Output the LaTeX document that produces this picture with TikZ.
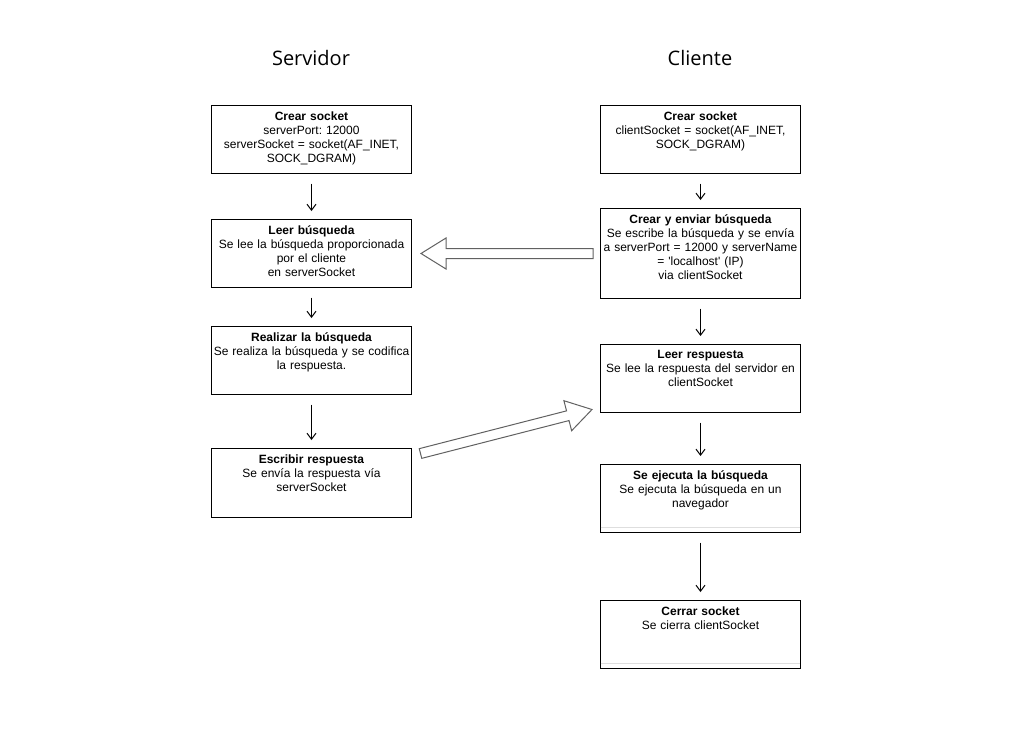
\documentclass[tikz,border=0pt]{standalone}
\usepackage{fontspec}
\setmainfont[Ligatures=TeXOff]{Liberation Sans}
\newfontfamily\titlefont{Open Sans}
\usetikzlibrary{arrows.meta,calc}
\frenchspacing
\begin{document}
\begin{tikzpicture}[x=1pt,y=-1pt, line width=1pt,
 box/.style={draw, minimum width=200pt, minimum height=68pt, inner sep=0pt, anchor=north west},
 txt/.style={anchor=north, text width=198pt, align=center, inner sep=0pt, font=\fontsize{12}{14}\selectfont},
 varrow/.style={-{Straight Barb[length=6pt,width=9pt]}, shorten <=9.5pt, shorten >=8pt},
 block/.style={draw=black!62, fill=white, line width=1pt, line join=miter},
 title/.style={font=\titlefont\fontsize{20}{24}\selectfont, inner sep=0pt},
 sepline/.style={draw=black!13, line width=1pt, shorten <=0.6pt, shorten >=0.6pt}]
\useasboundingbox (0,0) rectangle (1013,737);

\node[title] (tserv) at (311,58) {Servidor};
\node[title] (tcli) at (700,58) {Cliente};

% server column
\node[box] (s1) at (211,105) {};
\node[box] (s2) at (211,219) {};
\node[box] (s3) at (211,326) {};
\node[box, minimum height=69pt] (s4) at (211,448) {};
% client column
\node[box] (c1) at (600,105) {};
\node[box, minimum height=90pt] (c2) at (600,208) {};
\node[box] (c3) at (600,344) {};
\node[box] (c4) at (600,464) {};
\node[box] (c5) at (600,600) {};

\draw[sepline] ([yshift=6pt]c4.south west) -- ([yshift=6pt]c4.south east);
\draw[sepline] ([yshift=6pt]c5.south west) -- ([yshift=6pt]c5.south east);

\node[txt] (s1t) at ([yshift=-6pt]s1.north) {\textbf{Crear socket}\\serverPort: 12000\\serverSocket = socket(AF\_INET,\\SOCK\_DGRAM)};
\node[txt] (s2t) at ([yshift=-6pt]s2.north) {\textbf{Leer búsqueda}\\Se lee la búsqueda proporcionada\\por el cliente\\en serverSocket};
\node[txt] (s3t) at ([yshift=-6pt]s3.north) {\textbf{Realizar la búsqueda}\\Se realiza la búsqueda y se codifica\\la respuesta.};
\node[txt] (s4t) at ([yshift=-6pt]s4.north) {\textbf{Escribir respuesta}\\Se envía la respuesta vía\\serverSocket};

\node[txt] (c1t) at ([yshift=-6pt]c1.north) {\textbf{Crear socket}\\clientSocket = socket(AF\_INET,\\SOCK\_DGRAM)};
\node[txt] (c2t) at ([yshift=-6pt]c2.north) {\textbf{Crear y enviar búsqueda}\\Se escribe la búsqueda y se envía\\a serverPort = 12000 y serverName\\= 'localhost' (IP)\\via clientSocket};
\node[txt] (c3t) at ([yshift=-6pt]c3.north) {\textbf{Leer respuesta}\\Se lee la respuesta del servidor en\\clientSocket};
\node[txt] (c4t) at ([yshift=-6pt]c4.north) {\textbf{Se ejecuta la búsqueda}\\Se ejecuta la búsqueda en un\\navegador};
\node[txt] (c5t) at ([yshift=-6pt]c5.north) {\textbf{Cerrar socket}\\Se cierra clientSocket};

% vertical arrows
\draw[varrow] (s1) -- (s2);
\draw[varrow] (s2) -- (s3);
\draw[varrow] (s3) -- (s4);
\draw[varrow] (c1) -- (c2);
\draw[varrow] (c2) -- (c3);
\draw[varrow] (c3) -- (c4);
\draw[varrow] (c4) -- (c5);

% block arrows
\coordinate (a1tail) at ([xshift=-7pt]c2.west);
\coordinate (a1tip) at ([xshift=9pt]s2.east);
\coordinate (a2tail) at ([xshift=8.5pt,yshift=-5.5pt]s4.north east);
\coordinate (a2tip) at ([xshift=-8pt,yshift=3.5pt]c3.south west);

\foreach \ta/\tb in {a1tail/a1tip, a2tail/a2tip}{
  \draw[block] let \p1=(\ta), \p2=(\tb),
    \n1={atan2(\y2-\y1,\x2-\x1)}, \n2={veclen(\x2-\x1,\y2-\y1)} in
    [shift={(\x1,\y1)}, rotate=\n1]
    (0pt,-5pt) -- ({\n2-25pt},-5pt) -- ({\n2-25pt},-15.5pt) -- (\n2,0pt)
    -- ({\n2-25pt},15.5pt) -- ({\n2-25pt},5pt) -- (0pt,5pt) -- cycle;
}
\end{tikzpicture}
\end{document}
